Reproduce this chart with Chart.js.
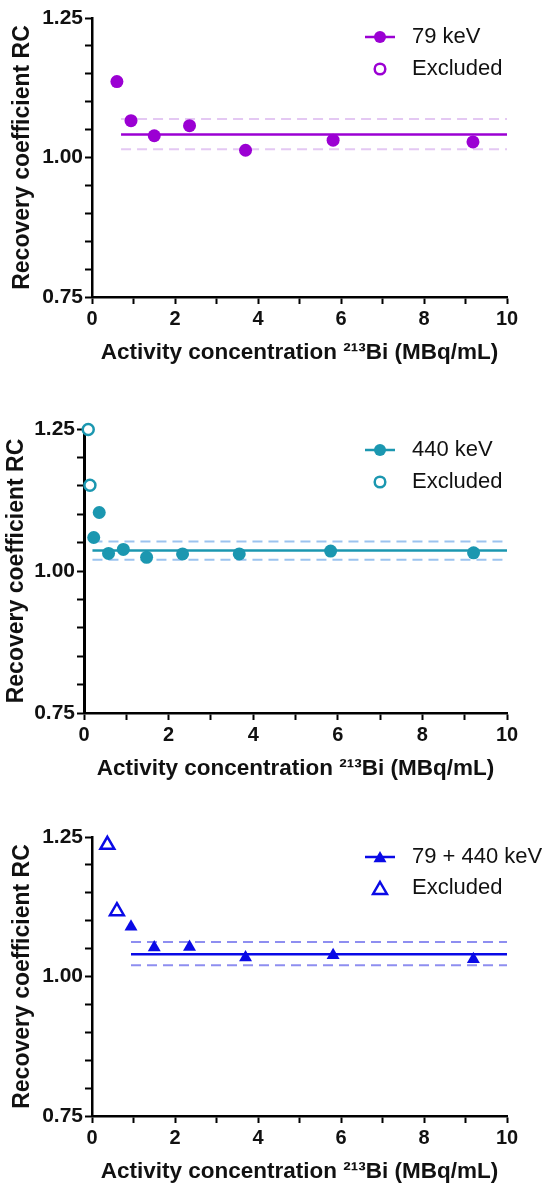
<!DOCTYPE html>
<html>
<head>
<meta charset="utf-8">
<script src="https://cdn.jsdelivr.net/npm/chart.js@4.4.1/dist/chart.umd.min.js"></script>
<style>
  html, body { margin: 0; padding: 0; background: #fff; }
  #wrap { position: relative; width: 553px; height: 1194px; overflow: hidden; }
  .panel { position: absolute; left: 0; width: 553px; }
</style>
</head>
<body>
<div id="wrap">
  <div class="panel" style="top:0px;height:375px"><canvas id="c79"></canvas></div>
  <div class="panel" style="top:411px;height:380px"><canvas id="c440"></canvas></div>
  <div class="panel" style="top:819px;height:375px"><canvas id="cBoth"></canvas></div>
</div>
<script>
// tick labels
const xTicks = [0, 2, 4, 6, 8, 10];
const yTicks = [0.75, 1.00, 1.25];

// 79 keV
const conc79 = [0.60, 0.94, 1.50, 2.35, 3.70, 5.81, 9.18];
const rc79 = [1.136, 1.066, 1.039, 1.057, 1.013, 1.031, 1.028];
const conc79Excl = [];
const rc79Excl = [];
const fitX79 = [0.70, 10];
const fit79 = [1.015, 1.041, 1.069]; // lower, mean, upper

// 440 keV
const conc440 = [0.23, 0.36, 0.58, 0.93, 1.48, 2.33, 3.67, 5.83, 9.21];
const rc440 = [1.059, 1.103, 1.031, 1.038, 1.024, 1.030, 1.030, 1.035, 1.032];
const conc440Excl = [0.10, 0.14];
const rc440Excl = [1.249, 1.151];
const fitX440 = [0.20, 10];
const fit440 = [1.020, 1.036, 1.052];

// 79 + 440 keV
const concBoth = [0.94, 1.50, 2.35, 3.70, 5.81, 9.19];
const rcBoth = [1.089, 1.052, 1.053, 1.034, 1.038, 1.031];
const concBothExcl = [0.37, 0.60];
const rcBothExcl = [1.236, 1.117];
const fitXBoth = [0.94, 10];
const fitBoth = [1.020, 1.040, 1.062];

const FONT = "'Liberation Sans', Arial, Helvetica, sans-serif";
const xTitle = 'Activity concentration \u00B2\u00B9\u00B3Bi (MBq/mL)';
const yTitle = 'Recovery coefficient RC';

const pts = (xs, ys) => xs.map((x, i) => ({ x: x, y: ys[i] }));

// legend drawn inside the plot, top right
const rcLegend = {
  id: 'rcLegend',
  afterDraw(chart, args, o) {
    const ctx = chart.ctx;
    const tri = o.style === 'triangle';
    ctx.save();
    ctx.strokeStyle = o.color;
    ctx.fillStyle = o.color;
    ctx.lineWidth = 2.5;
    ctx.beginPath();
    ctx.moveTo(o.x - 15, o.y1);
    ctx.lineTo(o.x + 15, o.y1);
    ctx.stroke();
    const mark = (x, y, r, filled) => {
      ctx.beginPath();
      if (tri) {
        ctx.moveTo(x, y - r);
        ctx.lineTo(x + r * 0.866, y + r / 2);
        ctx.lineTo(x - r * 0.866, y + r / 2);
        ctx.closePath();
      } else {
        ctx.arc(x, y, r, 0, Math.PI * 2);
      }
      if (filled) { ctx.fill(); } else { ctx.fillStyle = '#fff'; ctx.fill(); ctx.stroke(); }
    };
    mark(o.x, o.y1 + (tri ? 1.5 : 0), tri ? 7.5 : 6, true);
    mark(o.x, o.y2 + (tri ? 2 : 0), tri ? 8 : 5.3, false);
    ctx.fillStyle = '#111';
    ctx.font = '22px ' + FONT;
    ctx.textBaseline = 'middle';
    ctx.textAlign = 'left';
    ctx.fillText(o.label, o.textX, o.y1);
    ctx.fillText('Excluded', o.textX, o.y2);
    ctx.restore();
  }
};

function makeChart(id, c) {
  const tri = c.style === 'triangle';
  const r = tri ? 7.5 : 6.5;
  const rEx = tri ? 8 : 5.5;
  return new Chart(document.getElementById(id), {
    type: 'scatter',
    data: {
      datasets: [
        { data: pts(c.x, c.y), pointStyle: c.style, pointRadius: r, backgroundColor: c.color, borderColor: c.color, borderWidth: 0, clip: false },
        { data: pts(c.xEx, c.yEx), pointStyle: c.style, pointRadius: rEx, backgroundColor: '#fff', borderColor: c.color, borderWidth: 2.5, clip: false },
        { data: pts(c.fitX, [c.fit[1], c.fit[1]]), showLine: true, pointRadius: 0, borderColor: c.color, borderWidth: 2.5 },
        { data: pts(c.fitX, [c.fit[2], c.fit[2]]), showLine: true, pointRadius: 0, borderColor: c.dash, borderWidth: 2, borderDash: [10, 6] },
        { data: pts(c.fitX, [c.fit[0], c.fit[0]]), showLine: true, pointRadius: 0, borderColor: c.dash, borderWidth: 2, borderDash: [10, 6] }
      ]
    },
    options: {
      responsive: true,
      maintainAspectRatio: false,
      animation: false,
      layout: { padding: { top: 18, right: 46, bottom: 0, left: 0 } },
      plugins: {
        legend: { display: false },
        tooltip: { enabled: false },
        rcLegend: { color: c.color, style: c.style, label: c.label, x: 380, textX: 412, y1: c.legY[0], y2: c.legY[1] }
      },
      scales: {
        x: {
          type: 'linear', min: 0, max: 10,
          afterFit: s => { s.height = c.xH; },
          ticks: {
            stepSize: 1, autoSkip: false, maxRotation: 0, padding: 3, color: '#111',
            font: { family: FONT, size: 20, weight: 'bold' },
            callback: v => xTicks.includes(v) ? String(v) : ''
          },
          grid: { drawOnChartArea: false, drawTicks: true, tickLength: 7, tickColor: '#000', tickWidth: 2 },
          border: { color: '#000', width: 2.5 },
          title: { display: true, text: xTitle, color: '#111', font: { family: FONT, size: 22.5, weight: 'bold' }, padding: { top: 0, bottom: 9 } }
        },
        y: {
          type: 'linear', min: 0.75, max: 1.25,
          afterFit: s => { s.width = c.left; },
          ticks: {
            stepSize: 0.05, autoSkip: false, padding: 2, color: '#111',
            font: { family: FONT, size: 21, weight: 'bold' },
            callback: v => {
              const t = yTicks.find(k => Math.abs(k - v) < 1e-6);
              return t === undefined ? '' : t.toFixed(2);
            }
          },
          grid: { drawOnChartArea: false, drawTicks: true, tickLength: 7, tickColor: '#000', tickWidth: 2 },
          border: { color: '#000', width: c.axisW },
          title: { display: true, text: yTitle, color: '#111', font: { family: FONT, size: 23, weight: 'bold' }, padding: { top: c.yTitlePad, bottom: 0 } }
        }
      }
    },
    plugins: [rcLegend]
  });
}

makeChart('c79', {
  x: conc79, y: rc79, xEx: conc79Excl, yEx: rc79Excl, fitX: fitX79, fit: fit79,
  color: '#9b00d3', dash: '#e4c8f3', style: 'circle', label: '79 keV',
  left: 92, xH: 78, axisW: 2.5, yTitlePad: 9, legY: [37, 69]
});
makeChart('c440', {
  x: conc440, y: rc440, xEx: conc440Excl, yEx: rc440Excl, fitX: fitX440, fit: fit440,
  color: '#1b97b0', dash: '#9cc3ef', style: 'circle', label: '440 keV',
  left: 84, xH: 78, axisW: 3, yTitlePad: 3, legY: [39, 71]
});
makeChart('cBoth', {
  x: concBoth, y: rcBoth, xEx: concBothExcl, yEx: rcBothExcl, fitX: fitXBoth, fit: fitBoth,
  color: '#0a0ae6', dash: '#8e8ef0', style: 'triangle', label: '79 + 440 keV',
  left: 92, xH: 78, axisW: 2.5, yTitlePad: 9, legY: [38, 69]
});
</script>
</body>
</html>
